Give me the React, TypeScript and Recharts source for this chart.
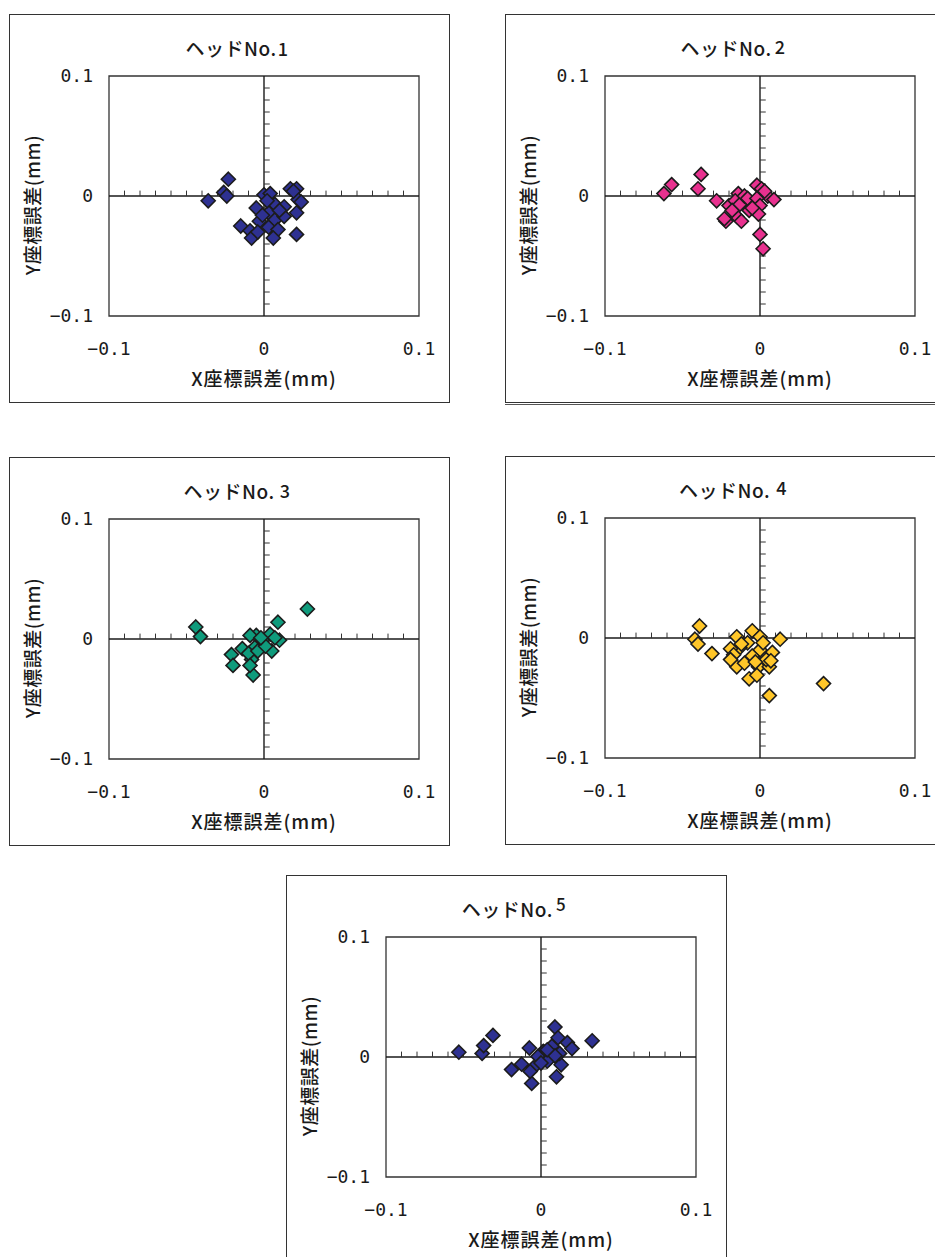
import React from 'react';
import { ScatterChart, Scatter, XAxis, YAxis, ReferenceLine, ReferenceArea } from 'recharts';

// axis range and ticks (mm)
const AXIS_TICKS = [-0.1, 0, 0.1];
const MINOR_TICKS = [
  -0.09, -0.08, -0.07, -0.06, -0.05, -0.04, -0.03, -0.02, -0.01,
  0.01, 0.02, 0.03, 0.04, 0.05, 0.06, 0.07, 0.08, 0.09,
];

// head No.1
const head1X = [
  -0.023, -0.026, -0.024, -0.036, 0.0, 0.004, 0.017, 0.021, 0.022, 0.024,
  0.021, 0.021, -0.005, 0.007, 0.013, 0.003, 0.007, 0.013, -0.003, -0.015,
  -0.009, -0.008, 0.003, 0.009, 0.006, -0.004, 0.002, 0.01, -0.001, 0.019,
];
const head1Y = [
  0.014, 0.003, 0.0, -0.004, 0.001, 0.002, 0.006, 0.006, -0.003, -0.005,
  -0.014, -0.032, -0.01, -0.007, -0.009, -0.014, -0.02, -0.017, -0.021, -0.025,
  -0.029, -0.035, -0.026, -0.028, -0.035, -0.03, -0.004, -0.012, -0.016, 0.004,
];

// head No.2
const head2X = [
  -0.062, -0.057, -0.038, -0.04, -0.028, -0.02, -0.022, -0.023, -0.015, -0.012,
  -0.014, -0.016, -0.01, -0.013, -0.007, -0.01, -0.008, -0.002, 0.001, 0.005,
  0.009, -0.002, 0.0, -0.001, 0.0, 0.002, -0.005, -0.018, 0.003,
];
const head2Y = [
  0.002, 0.0095, 0.018, 0.006, -0.004, -0.008, -0.021, -0.019, -0.017, -0.021,
  0.002, -0.004, -0.005, -0.007, -0.012, 0.0, -0.002, 0.009, 0.006, 0.0,
  -0.003, -0.002, -0.008, -0.015, -0.032, -0.044, -0.01, -0.012, 0.004,
];

// head No.3
const head3X = [
  -0.044, -0.041, 0.028, 0.009, 0.01, 0.004, -0.005, -0.009, -0.001, -0.014,
  -0.006, 0.005, -0.021, -0.008, -0.02, -0.007, -0.01, -0.004, 0.001, -0.009,
  0.007, -0.002,
];
const head3Y = [
  0.01, 0.002, 0.025, 0.014, -0.001, 0.004, 0.003, 0.003, -0.001, -0.008,
  -0.007, -0.01, -0.013, -0.017, -0.022, -0.03, -0.012, -0.01, -0.006, -0.022,
  0.001, 0.001,
];

// head No.4
const head4X = [
  -0.039, -0.042, -0.04, -0.031, -0.015, -0.005, 0.0, 0.013, -0.008, -0.013,
  -0.019, -0.017, 0.0, 0.008, -0.005, -0.015, -0.01, -0.001, 0.006, 0.004,
  -0.019, -0.007, -0.002, 0.006, 0.041, 0.002, -0.003, 0.007, -0.012,
];
const head4Y = [
  0.01, -0.001, -0.005, -0.013, 0.001, 0.006, 0.001, -0.001, -0.004, -0.008,
  -0.009, -0.014, -0.01, -0.012, -0.015, -0.024, -0.021, -0.024, -0.024, -0.018,
  -0.018, -0.034, -0.031, -0.048, -0.038, -0.004, -0.02, -0.019, -0.005,
];

// head No.5
const head5X = [
  -0.053, -0.038, -0.037, -0.031, -0.0075, 0.009, 0.011, 0.017, 0.02, 0.033,
  0.007, 0.0015, -0.002, 0.005, -0.0125, -0.019, -0.005, -0.006, 0.01, 0.013,
  0.012, 0.004, 0.009, 0.0, -0.007, 0.004,
];
const head5Y = [
  0.004, 0.003, 0.0095, 0.018, 0.0075, 0.025, 0.016, 0.012, 0.007, 0.0135,
  0.009, 0.0047, 0.0005, -0.002, -0.006, -0.0105, -0.009, -0.022, -0.0165, -0.0065,
  0.003, -0.0035, 0.001, -0.005, -0.012, 0.006,
];

const toPoints = (xs: number[], ys: number[]) => xs.map((x, i) => ({ x, y: ys[i] }));

const CHART_W = 441;
const CHART_H = 389;
const NUM_FONT = '"DejaVu Sans Mono", "Liberation Mono", monospace';
const JP_FONT = '"Noto Sans CJK JP", "Noto Sans", sans-serif';
const INK = '#1a1a1a';

const fmt = (v: number) => String(v).replace('-', '\u2212');

const XTick = (p: any) => (
  <text x={p.x} y={p.y + 33} dy="0.36em" textAnchor="middle" fontFamily={NUM_FONT} fontSize={18} fill={INK}>
    {fmt(p.payload.value)}
  </text>
);

const YTick = (p: any) => (
  <text x={p.x - 16} y={p.y} dy="0.36em" textAnchor="end" fontFamily={NUM_FONT} fontSize={18} fill={INK}>
    {fmt(p.payload.value)}
  </text>
);

const XLabel = (props: any) => {
  const vb = props.viewBox;
  return (
    <text x={vb.x + vb.width / 2} y={vb.y + 63} dy="0.36em" textAnchor="middle" fontFamily={JP_FONT} fontSize={19} fontWeight={500} letterSpacing={1} fill={INK}>
      X座標誤差(mm)
    </text>
  );
};

const YLabel = (props: any) => {
  const vb = props.viewBox;
  const x = vb.x + 24;
  const y = vb.y + vb.height / 2 + 9;
  return (
    <text x={x} y={y} dy="0.36em" textAnchor="middle" transform={`rotate(-90 ${x} ${y})`} fontFamily={JP_FONT} fontSize={19} fontWeight={500} letterSpacing={0.5} fill={INK}>
      Y座標誤差(mm)
    </text>
  );
};

const diamond = (color: string) => (p: any) => {
  const { cx, cy } = p;
  const r = 7;
  return (
    <polygon
      points={`${cx},${cy - r} ${cx + r},${cy} ${cx},${cy + r} ${cx - r},${cy}`}
      fill={color}
      stroke="#1c1c1c"
      strokeWidth={1.6}
    />
  );
};

type HeadProps = {
  left: number;
  top: number;
  no: string;
  raise: number;
  gap: number;
  numSize: number;
  color: string;
  xs: number[];
  ys: number[];
  doubleBottom?: boolean;
};

const HeadChart = ({ left, top, no, raise, gap, numSize, color, xs, ys, doubleBottom }: HeadProps) => {
  const data = toPoints(xs, ys);
  return (
    <div style={{ position: 'absolute', left, top, width: CHART_W, height: CHART_H }}>
      <div
        style={{
          position: 'absolute', left: 0, top: 0, width: CHART_W, height: CHART_H,
          border: '1px solid #333', boxSizing: 'border-box',
        }}
      />
      {doubleBottom && (
        <div style={{ position: 'absolute', left: 0, top: CHART_H + 1, width: CHART_W, height: 1, background: '#555' }} />
      )}
      <div
        style={{
          position: 'absolute', left: 0, top: 22, width: 456, textAlign: 'center',
          fontFamily: JP_FONT, fontSize: 19, fontWeight: 500, lineHeight: '24px', color: INK, letterSpacing: 0.5,
        }}
      >
        ヘッドNo.
        <span style={{ position: 'relative', top: raise, marginLeft: gap, fontSize: numSize }}>{no}</span>
      </div>
      <div style={{ position: 'absolute', left: 0, top: 0 }}>
        <ScatterChart width={CHART_W} height={CHART_H} margin={{ top: 62, right: 31, bottom: 0, left: 0 }}>
          <XAxis
            type="number"
            dataKey="x"
            domain={[-0.1, 0.1]}
            ticks={AXIS_TICKS}
            allowDataOverflow
            axisLine={false}
            tickLine={false}
            tickSize={0}
            tickMargin={0}
            height={87}
            tick={XTick}
            label={XLabel}
          />
          <YAxis
            type="number"
            dataKey="y"
            domain={[-0.1, 0.1]}
            ticks={AXIS_TICKS}
            allowDataOverflow
            axisLine={false}
            tickLine={false}
            tickSize={0}
            tickMargin={0}
            width={100}
            tick={YTick}
            label={YLabel}
          />
          <ReferenceArea x1={-0.1} x2={0.1} y1={-0.1} y2={0.1} fill="none" stroke="#333" strokeWidth={1.3} />
          <ReferenceLine y={0} stroke={INK} strokeWidth={1.4} />
          <ReferenceLine x={0} stroke={INK} strokeWidth={1.4} />
          {MINOR_TICKS.map((v) => (
            <ReferenceLine key={`xt${v}`} segment={[{ x: v, y: 0 }, { x: v, y: 0.0045 }]} stroke="#333" strokeWidth={1} />
          ))}
          {MINOR_TICKS.map((v) => (
            <ReferenceLine key={`yt${v}`} segment={[{ x: 0, y: v }, { x: 0.0037, y: v }]} stroke="#333" strokeWidth={1} />
          ))}
          <Scatter data={data} shape={diamond(color)} isAnimationActive={false} />
        </ScatterChart>
      </div>
    </div>
  );
}

export default function App() {
  return (
    <div style={{ position: 'fixed', left: 0, top: 0, width: 935, height: 1257, overflow: 'hidden', background: '#fff' }}>
      <HeadChart left={9} top={14} no="1" raise={0} gap={1} numSize={18} color="#2E3192" xs={head1X} ys={head1Y} />
      <HeadChart left={505} top={14} no="2" raise={-2} gap={3} numSize={18} color="#E8318F" xs={head2X} ys={head2Y} doubleBottom />
      <HeadChart left={9} top={457} no="3" raise={-1} gap={5} numSize={18} color="#0F9B7C" xs={head3X} ys={head3Y} />
      <HeadChart left={505} top={456} no="4" raise={-3} gap={6} numSize={18} color="#FFC629" xs={head4X} ys={head4Y} />
      <HeadChart left={286} top={875} no="5" raise={-6} gap={3} numSize={17} color="#2E3192" xs={head5X} ys={head5Y} />
    </div>
  );
}
